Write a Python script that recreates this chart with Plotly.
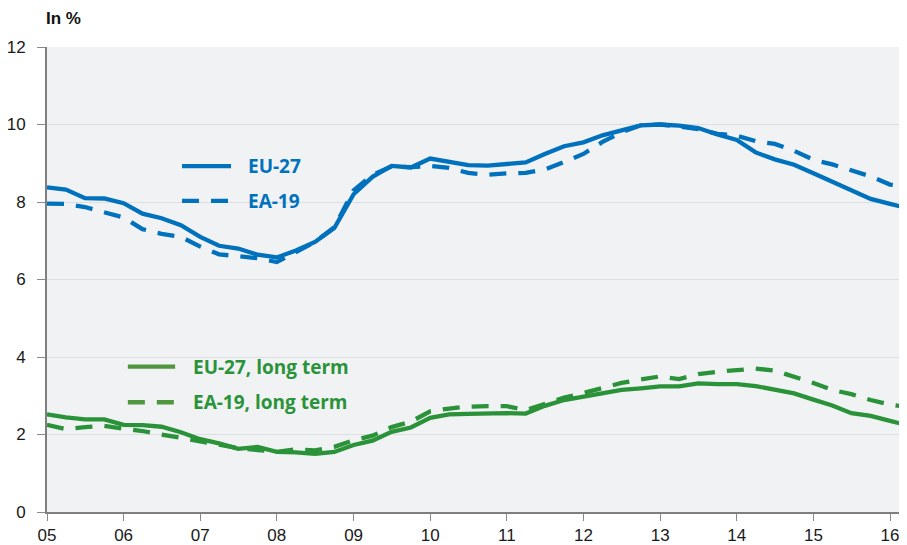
import pandas as pd
import plotly.graph_objects as go

# quarterly observations, 2005 Q1 .. 2016 Q2
quarters = pd.date_range("2005-01-01", periods=46, freq="QS")

eu27 = [8.38, 8.32, 8.10, 8.09, 7.97, 7.70, 7.58, 7.40, 7.10, 6.87,
        6.80, 6.64, 6.57, 6.75, 6.97, 7.33, 8.20, 8.65, 8.93, 8.89,
        9.12, 9.04, 8.95, 8.94, 8.97, 9.02, 9.24, 9.44, 9.54, 9.72,
        9.85, 9.98, 10.0, 9.97, 9.91, 9.74, 9.60, 9.28, 9.10, 8.96,
        8.74, 8.52, 8.31, 8.08, 7.95, 7.83]
ea19 = [7.96, 7.95, 7.87, 7.73, 7.60, 7.30, 7.18, 7.10, 6.85, 6.65,
        6.60, 6.55, 6.45, 6.72, 6.97, 7.35, 8.30, 8.70, 8.92, 8.90,
        8.93, 8.88, 8.75, 8.70, 8.74, 8.75, 8.84, 9.03, 9.24, 9.55,
        9.80, 9.98, 10.0, 9.95, 9.88, 9.76, 9.71, 9.57, 9.50, 9.32,
        9.09, 8.97, 8.82, 8.66, 8.45, 8.40]
eu27_lt = [2.52, 2.44, 2.39, 2.39, 2.25, 2.24, 2.20, 2.06, 1.88, 1.77,
           1.63, 1.68, 1.55, 1.54, 1.50, 1.55, 1.73, 1.84, 2.07, 2.18,
           2.43, 2.52, 2.53, 2.55, 2.55, 2.54, 2.74, 2.89, 2.98, 3.07,
           3.15, 3.19, 3.24, 3.24, 3.32, 3.30, 3.30, 3.25, 3.15, 3.06,
           2.90, 2.75, 2.55, 2.48, 2.35, 2.23]
ea19_lt = [2.25, 2.14, 2.19, 2.22, 2.15, 2.09, 2.00, 1.91, 1.82, 1.72,
           1.65, 1.60, 1.55, 1.62, 1.59, 1.68, 1.85, 1.97, 2.19, 2.33,
           2.60, 2.67, 2.72, 2.73, 2.73, 2.63, 2.80, 2.95, 3.07, 3.20,
           3.33, 3.42, 3.50, 3.43, 3.56, 3.62, 3.66, 3.70, 3.65, 3.50,
           3.33, 3.15, 3.04, 2.89, 2.77, 2.70]

BLUE = "#0071bd"
GREEN = "#2a9339"
GREEN_KEY = "#4f963f"
DASH = "17px,12px"

fig = go.Figure()
fig.add_trace(go.Scatter(x=quarters, y=ea19, mode="lines",
                         line=dict(color=BLUE, width=4.3, dash=DASH)))
fig.add_trace(go.Scatter(x=quarters, y=eu27, mode="lines",
                         line=dict(color=BLUE, width=4.3)))
fig.add_trace(go.Scatter(x=quarters, y=ea19_lt, mode="lines",
                         line=dict(color=GREEN, width=4.3, dash=DASH)))
fig.add_trace(go.Scatter(x=quarters, y=eu27_lt, mode="lines",
                         line=dict(color=GREEN, width=4.3)))

# hand-placed key, as in the original
keys = [
    (0.157, 0.214, 0.744, "EU-27", BLUE, BLUE, "solid", 0.231),
    (0.157, 0.214, 0.669, "EA-19", BLUE, BLUE, DASH, 0.231),
    (0.094, 0.149, 0.3125, "EU-27, long term", GREEN_KEY, GREEN, "solid", 0.168),
    (0.094, 0.149, 0.236, "EA-19, long term", GREEN_KEY, GREEN, DASH, 0.168),
]
for x0, x1, y, label, lc, tc, dash, tx in keys:
    fig.add_shape(type="line", xref="paper", yref="paper",
                  x0=x0, x1=x1, y0=y, y1=y,
                  line=dict(color=lc, width=4.3, dash=dash))
    fig.add_annotation(xref="paper", yref="paper", x=tx, y=y,
                       text=label, showarrow=False,
                       xanchor="left", yanchor="middle",
                       font=dict(family="Open Sans", size=19, color=tc,
                                 weight="bold"))

fig.add_annotation(xref="paper", yref="paper", x=0, y=1.062,
                   text="<b>In %</b>", showarrow=False,
                   xanchor="left", yanchor="middle", xshift=-3,
                   font=dict(family="Liberation Sans", size=17, color="#111111"))

# the page body adds an 8px margin, so the figure is 8px smaller each way
fig.update_layout(
    width=899, height=537,
    margin=dict(l=39, r=0, t=39, b=33, autoexpand=False),
    plot_bgcolor="#f1f2f4",
    paper_bgcolor="white",
    showlegend=False,
    font=dict(family="Liberation Sans", size=17, color="#1a1a1a"),
)
fig.update_xaxes(
    range=["2005-01-01", "2016-03-22"],
    dtick="M12", tick0="2005-01-01", tickformat="%y",
    showgrid=False, showline=True, linecolor="#7f7f7f", linewidth=2,
    ticks="outside", ticklen=7, tickcolor="#8a8a8a", tickwidth=1,
    ticklabelstandoff=0, automargin=False,
)
fig.update_yaxes(
    range=[0, 12], dtick=2,
    showgrid=True, gridcolor="#dcdee1", gridwidth=1, zeroline=False,
    showline=True, linecolor="#7f7f7f", linewidth=2,
    ticks="outside", ticklen=8, tickcolor="#8a8a8a", tickwidth=1,
    ticklabelstandoff=8, automargin=False,
)

fig.write_html("out.html")
